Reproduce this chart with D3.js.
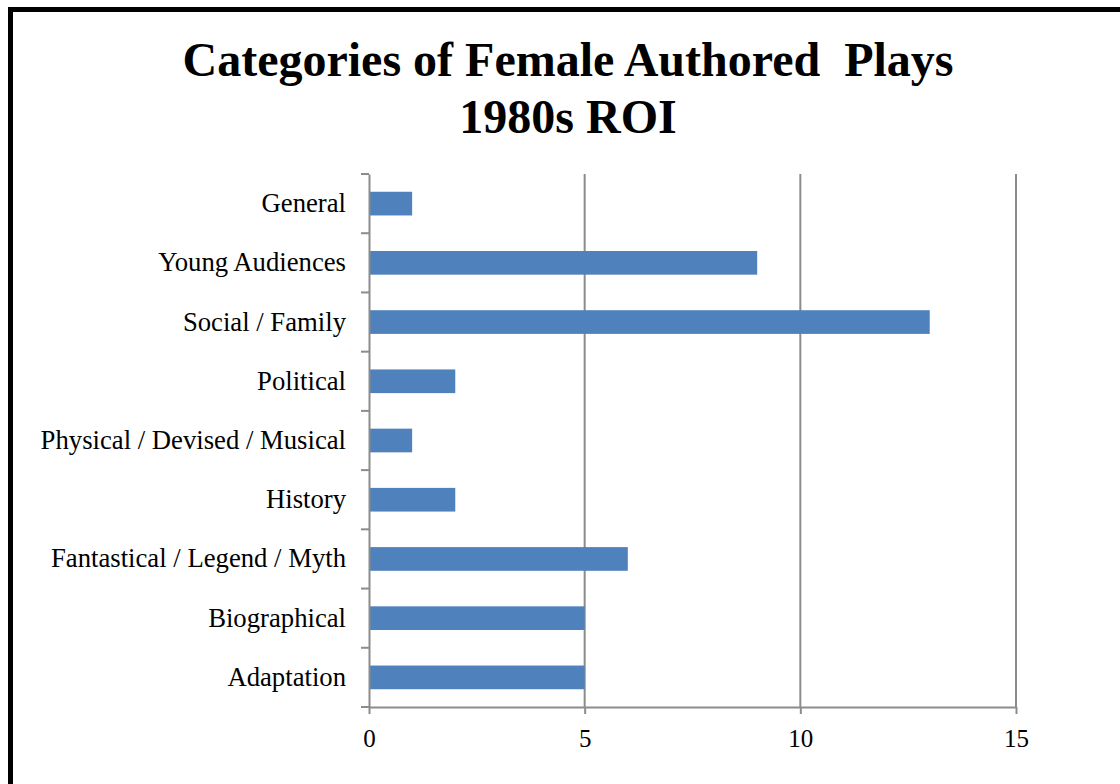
<!DOCTYPE html>
<html>
<head>
<meta charset="utf-8">
<script src="https://cdn.jsdelivr.net/npm/d3@7"></script>
<style>
  html, body { margin: 0; padding: 0; background: #fff; overflow: hidden; }
  svg { display: block; font-family: "Liberation Serif", "Times New Roman", serif; }
</style>
</head>
<body>
<div id="chart"></div>
<script>
// Categories, listed bottom to top as in the reference
const categories = [
  'Adaptation',
  'Biographical',
  'Fantastical / Legend / Myth',
  'History',
  'Physical / Devised / Musical',
  'Political',
  'Social / Family',
  'Young Audiences',
  'General'
];
const values = [5, 5, 6, 2, 1, 2, 13, 9, 1];
const xTicks = [0, 5, 10, 15];
const titleLines = ['Categories of Female Authored\u00a0 Plays', '1980s ROI'];

const width = 1120, height = 784;
const margin = { top: 174, right: 104, bottom: 77, left: 369 };
const chartWidth = width - margin.left - margin.right;   // 647
const chartHeight = height - margin.top - margin.bottom; // 533

const svg = d3.select('#chart').append('svg')
    .attr('width', width)
    .attr('height', height);

svg.append('rect').attr('width', width).attr('height', height).attr('fill', '#fff');

// outer frame (runs off the right and bottom edges)
svg.append('rect')
    .attr('x', 10.5)
    .attr('y', 9.5)
    .attr('width', width + 40)
    .attr('height', height + 40)
    .attr('fill', 'none')
    .attr('stroke', '#000')
    .attr('stroke-width', 5);

// title
svg.append('text')
    .attr('x', 568)
    .attr('text-anchor', 'middle')
    .attr('font-weight', 'bold')
    .style('font-size', '48px')
    .attr('fill', '#000')
    .selectAll('tspan')
    .data(titleLines)
    .join('tspan')
    .attr('x', 568)
    .attr('y', (d, i) => 76 + i * 57)
    .text(d => d);

const g = svg.append('g')
    .attr('transform', `translate(${margin.left},${margin.top})`);

const x = d3.scaleLinear()
    .domain([0, 15])
    .range([0, chartWidth]);

const y = d3.scaleBand()
    .domain(categories.slice().reverse())
    .range([0, chartHeight])
    .paddingInner(0.6)
    .paddingOuter(0.3);

const axisColor = '#8c8c8c';

// vertical gridlines
g.selectAll('.grid')
    .data(xTicks.slice(1))
    .join('line')
    .attr('class', 'grid')
    .attr('x1', d => x(d)).attr('x2', d => x(d))
    .attr('y1', 0).attr('y2', chartHeight)
    .attr('stroke', axisColor)
    .attr('stroke-width', 2);

// bars
g.selectAll('.bar')
    .data(categories.map((c, i) => ({ label: c, value: values[i] })))
    .join('rect')
    .attr('class', 'bar')
    .attr('x', 0)
    .attr('y', d => y(d.label))
    .attr('width', d => x(d.value))
    .attr('height', y.bandwidth())
    .attr('fill', '#4f81bd');

// x axis
const xAxis = g.append('g')
    .attr('transform', `translate(0,${chartHeight})`)
    .call(d3.axisBottom(x).tickValues(xTicks).tickSize(7).tickSizeOuter(0).tickPadding(15));

// y axis: ticks on the band boundaries
const yAxis = g.append('g')
    .call(d3.axisLeft(y).tickSize(0).tickPadding(23));

const boundaries = d3.range(categories.length + 1).map(i => i * chartHeight / categories.length);
yAxis.selectAll('.bound')
    .data(boundaries)
    .join('line')
    .attr('class', 'bound')
    .attr('x1', -8).attr('x2', 0)
    .attr('y1', d => d).attr('y2', d => d)
    .attr('stroke', axisColor)
    .attr('stroke-width', 2);

[xAxis, yAxis].forEach(a => {
  a.attr('font-family', '"Liberation Serif", "Times New Roman", serif');
  a.select('.domain').attr('stroke', axisColor).attr('stroke-width', 2);
  a.selectAll('.tick line').attr('stroke', axisColor).attr('stroke-width', 2);
  a.selectAll('text').attr('fill', '#000');
});
xAxis.attr('font-size', 25);
yAxis.attr('font-size', 26.7);
</script>
</body>
</html>
